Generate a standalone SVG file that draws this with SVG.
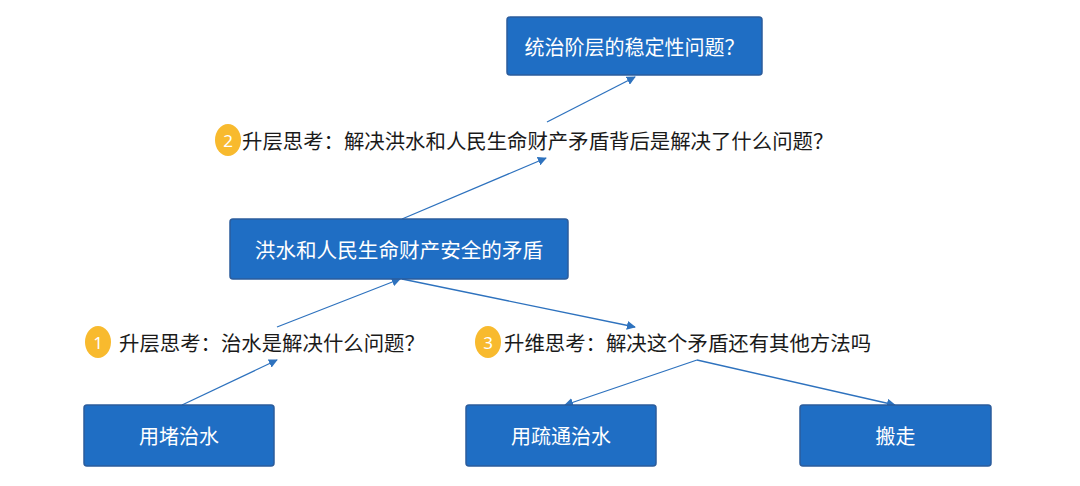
<svg xmlns="http://www.w3.org/2000/svg" width="1080" height="486" viewBox="0 0 1080 486">
<style>
.box{fill:#1F6EC4;stroke:#2B5C9C;stroke-width:1.5}
.bt{font-family:"Noto Sans CJK SC","Noto Sans",sans-serif;font-size:20px;fill:#FFFFFF;text-anchor:middle;dominant-baseline:central}
.lt{font-family:"Noto Sans CJK SC","Noto Sans",sans-serif;font-size:20.4px;fill:#1A1A1A;dominant-baseline:central}
.num{fill:#F8BA2E}
.nt{font-family:"Noto Sans","Liberation Sans",sans-serif;font-size:17px;fill:#FFFFFF;text-anchor:middle;dominant-baseline:central}
.c{stroke:#2E72BE;stroke-width:1.3;fill:none}
</style>
<defs>
<marker id="ah" viewBox="0 0 10 10" refX="9" refY="5" markerWidth="9" markerHeight="9" markerUnits="userSpaceOnUse" orient="auto">
<path d="M0,0 L10,5 L0,10 z" fill="#2E72BE"/>
</marker>
</defs>
<rect width="1080" height="486" fill="#FFFFFF"/>
<g id="connectors">
<line class="c" x1="182" y1="405" x2="277" y2="360" marker-end="url(#ah)"/>
<line class="c" x1="277" y1="327" x2="400" y2="279" marker-end="url(#ah)"/>
<line class="c" x1="402" y1="279" x2="635" y2="327" marker-end="url(#ah)"/>
<line class="c" x1="402" y1="219" x2="546" y2="158" marker-end="url(#ah)"/>
<line class="c" x1="547" y1="122" x2="635" y2="77" marker-end="url(#ah)"/>
<line class="c" x1="697" y1="360" x2="565" y2="405" marker-end="url(#ah)"/>
<line class="c" x1="697" y1="360" x2="895" y2="405" marker-end="url(#ah)"/>
</g>
<g id="node-top">
<rect class="box" x="507" y="17" width="255" height="58" rx="3"/>
<text class="bt" x="634.5" y="46">统治阶层的稳定性问题？</text>
</g>
<g id="label-2">
<ellipse class="num" cx="228" cy="140" rx="13" ry="16"/>
<text class="nt" x="228" y="140">2</text>
<text class="lt" x="242" y="140">升层思考：解决洪水和人民生命财产矛盾背后是解决了什么问题？</text>
</g>
<g id="node-middle">
<rect class="box" x="230" y="219" width="338" height="60" rx="3"/>
<text class="bt" x="399" y="249" style="font-size:20.6px">洪水和人民生命财产安全的矛盾</text>
</g>
<g id="label-1">
<ellipse class="num" cx="98" cy="342" rx="13" ry="16"/>
<text class="nt" x="98" y="342">1</text>
<text class="lt" x="119" y="342">升层思考：治水是解决什么问题？</text>
</g>
<g id="label-3">
<ellipse class="num" cx="488" cy="342" rx="13" ry="16"/>
<text class="nt" x="488" y="342">3</text>
<text class="lt" x="504" y="342">升维思考：解决这个矛盾还有其他方法吗</text>
</g>
<g id="node-block">
<rect class="box" x="84" y="405" width="190" height="61" rx="3"/>
<text class="bt" x="179" y="435.5">用堵治水</text>
</g>
<g id="node-dredge">
<rect class="box" x="466" y="405" width="190" height="61" rx="3"/>
<text class="bt" x="561" y="435.5">用疏通治水</text>
</g>
<g id="node-move">
<rect class="box" x="800" y="405" width="191" height="61" rx="3"/>
<text class="bt" x="895.5" y="435.5">搬走</text>
</g>
</svg>
